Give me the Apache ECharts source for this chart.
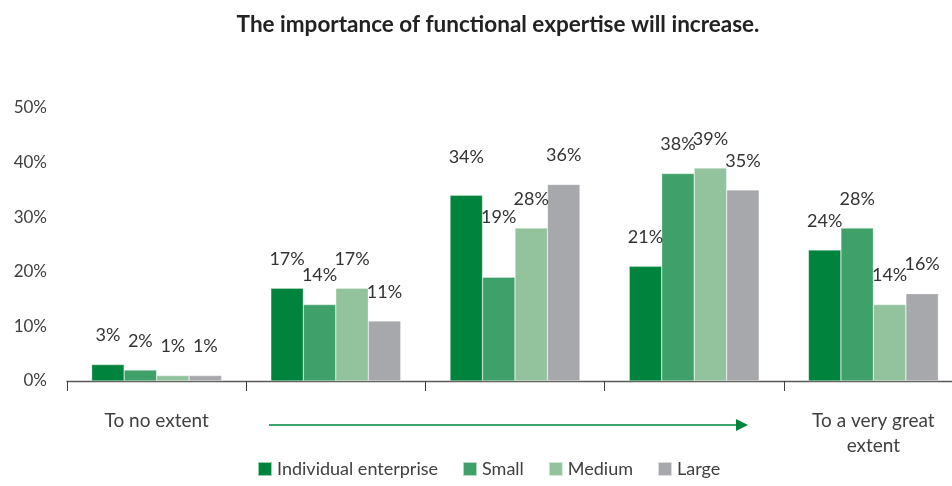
<!DOCTYPE html>
<html>
<head>
<meta charset="utf-8">
<script src="https://cdn.jsdelivr.net/npm/echarts@6/dist/echarts.min.js"></script>
<style>
  html, body { margin: 0; padding: 0; background: #fff; overflow: hidden; }
  /* canvas runs a little past the right edge so the last category keeps its full width */
  #chart { width: 972px; height: 486px; }
</style>
</head>
<body>
<div id="chart"></div>
<script>
// Survey answers: share of respondents per extent, by company size
const categories = ['To no extent', '', '', '', 'To a very great\nextent'];
const seriesNames = ['Individual enterprise', 'Small', 'Medium', 'Large'];
const individual = [3, 17, 34, 21, 24];
const small = [2, 14, 19, 38, 28];
const medium = [1, 17, 28, 39, 14];
const large = [1, 11, 36, 35, 16];
const yTicks = [0, 10, 20, 30, 40, 50];

const colors = ['#00843d', '#40a06a', '#93c39d', '#a7a8ab'];
const FONT = 'Lato, "Open Sans", sans-serif';

// a couple of labels sit higher above their bars
const labelLift = { '0-2': 9, '1-2': 31 };

const values = [individual, small, medium, large];

const series = values.map((vals, s) => ({
  name: seriesNames[s],
  type: 'bar',
  barGap: '0%',
  barCategoryGap: '27.5%',
  itemStyle: { color: colors[s], borderColor: 'rgba(255,255,255,0.6)', borderWidth: 0.5 },
  label: {
    show: true,
    position: 'top',
    distance: 20,
    formatter: '{c}%',
    color: '#333',
    fontFamily: FONT,
    fontSize: 18
  },
  data: vals.map((v, i) => {
    const lift = labelLift[s + '-' + i];
    return lift ? { value: v, label: { offset: [0, -lift] } } : v;
  })
}));

const chart = echarts.init(document.getElementById('chart'), null, { renderer: 'canvas' });
chart.setOption({
  animation: false,
  textStyle: { fontFamily: FONT },
  title: {
    text: 'The importance of functional expertise will increase.',
    left: 493,
    textAlign: 'center',
    top: 8,
    textStyle: { fontFamily: FONT, fontWeight: 'bold', fontSize: 22.5, color: '#222' }
  },
  color: colors,
  legend: {
    bottom: 3,
    left: 252,
    itemWidth: 14,
    itemHeight: 14,
    itemGap: 24,
    icon: 'rect',
    textStyle: { fontFamily: FONT, fontSize: 18, color: '#404040' },
    data: seriesNames
  },
  grid: { left: 67, top: 108, width: 896, height: 273, containLabel: false },
  xAxis: {
    type: 'category',
    data: categories,
    axisLine: { lineStyle: { color: '#595959', width: 1.3 } },
    axisTick: { show: true, length: 10, lineStyle: { color: '#404040' } },
    axisLabel: {
      margin: 27,
      color: '#404040',
      fontSize: 19,
      fontFamily: FONT,
      lineHeight: 25
    }
  },
  yAxis: {
    type: 'value',
    min: yTicks[0],
    max: yTicks[yTicks.length - 1],
    interval: yTicks[1] - yTicks[0],
    splitLine: { show: false },
    axisLine: { show: false },
    axisTick: { show: false },
    axisLabel: {
      formatter: '{value}%',
      margin: 20,
      color: '#404040',
      fontSize: 17,
      fontFamily: FONT
    }
  },
  series: series,
  graphic: [
    {
      type: 'line',
      shape: { x1: 269, y1: 425, x2: 738, y2: 425 },
      style: { stroke: '#00843d', lineWidth: 1.5 }
    },
    {
      type: 'polygon',
      shape: { points: [[736, 419], [748, 425], [736, 431]] },
      style: { fill: '#00843d' }
    }
  ]
});
</script>
</body>
</html>
